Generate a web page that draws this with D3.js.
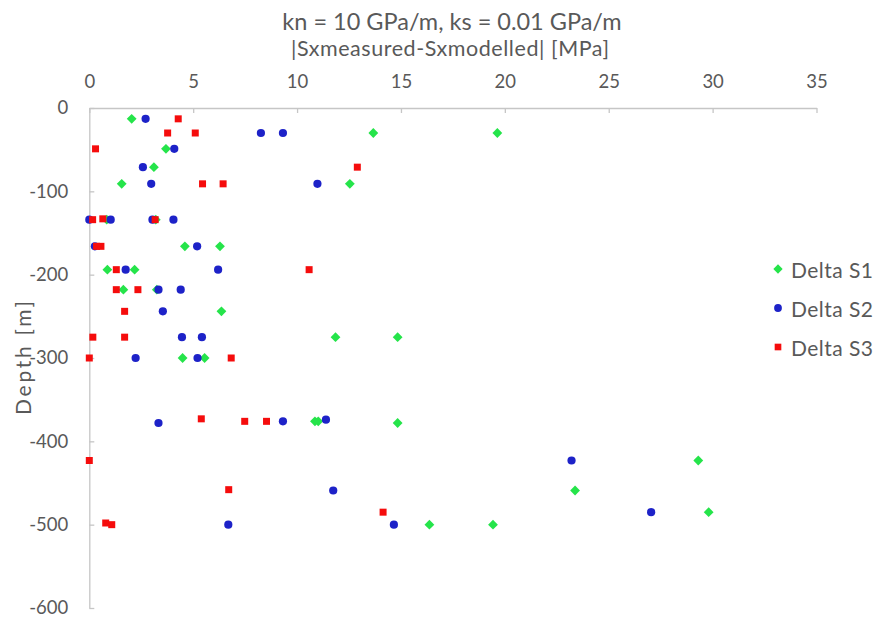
<!DOCTYPE html>
<html>
<head>
<meta charset="utf-8">
<script src="https://cdn.jsdelivr.net/npm/d3@7"></script>
<style>
  html, body { margin: 0; padding: 0; background: #fff; }
  svg { display: block; font-family: Lato, "Open Sans", sans-serif; }
</style>
</head>
<body>
<svg id="chart" width="880" height="619"></svg>
<script>
// Absolute stress difference [MPa] versus depth [m], three stress components
const deltaS1 = [
  [2.04, -13], [13.67, -30], [19.64, -30], [3.69, -49], [3.11, -71],
  [1.56, -91], [12.54, -91], [0.84, -134], [3.2, -134], [4.6, -166],
  [6.29, -166], [0.87, -194], [2.18, -194], [1.64, -218], [3.25, -218],
  [6.36, -244], [11.85, -275], [14.84, -275], [4.49, -300], [5.55, -300],
  [10.86, -376], [11.02, -376], [14.84, -378], [29.31, -423], [23.38, -459],
  [29.81, -485], [16.37, -500], [19.43, -500]
];
const deltaS2 = [
  [2.71, -13], [8.26, -30], [9.32, -30], [4.09, -49], [2.58, -71],
  [2.98, -91], [10.98, -91], [0.0, -134], [1.03, -134], [3.04, -134],
  [4.05, -134], [0.27, -166], [5.19, -166], [1.75, -194], [6.2, -194],
  [3.33, -218], [4.4, -218], [3.54, -244], [4.46, -275], [5.42, -275],
  [2.23, -300], [5.21, -300], [3.33, -378], [9.32, -376], [11.39, -374],
  [23.21, -423], [11.74, -459], [27.04, -485], [14.66, -500], [6.69, -500]
];
const deltaS3 = [
  [4.28, -13], [3.77, -30], [5.1, -30], [0.3, -49], [12.9, -71],
  [5.45, -91], [6.44, -91], [0.16, -134], [0.65, -133], [3.17, -134],
  [0.35, -166], [0.56, -166], [1.3, -194], [10.58, -194], [1.3, -218],
  [2.34, -218], [1.7, -244], [0.17, -275], [1.7, -275], [0.0, -300],
  [6.83, -300], [5.39, -373], [7.48, -376], [8.53, -376], [0.0, -423],
  [6.71, -458], [14.14, -485], [0.79, -498], [1.08, -500]
];

const seriesNames = ["Delta S1", "Delta S2", "Delta S3"];
const xTicks = [0, 5, 10, 15, 20, 25, 30, 35];
const yTicks = [0, -100, -200, -300, -400, -500, -600];

const titleText = "kn = 10 GPa/m, ks = 0.01 GPa/m";
const xTitleText = "|Sxmeasured-Sxmodelled| [MPa]";
const yTitleText = "Depth [m]";

const svg = d3.select("#chart");
const axisColor = "#c6c6c6";
const textColor = "#595959";
const colors = ["#25e44a", "#1d22c8", "#f50c0c"];

// Marker shapes: rotated square, circle, square
const markerPath = [
  r => `M0,${-r}L${r},0L0,${r}L${-r},0Z`,
  r => d3.symbol().type(d3.symbolCircle).size(Math.PI * r * r)(),
  r => `M${-r},${-r}H${r}V${r}H${-r}Z`
];
const markerRadius = [4.9, 4.1, 3.5];

const plot = { left: 89.3, right: 816.5, top: 108, bottom: 608 };

const x = d3.scaleLinear().domain([0, 35]).range([plot.left, plot.right]);
const y = d3.scaleLinear().domain([0, -600]).range([plot.top, plot.bottom]);

// Title and x-axis title (the horizontal axis sits at the top)
svg.append("text")
  .attr("x", 452).attr("y", 30)
  .attr("text-anchor", "middle")
  .attr("font-size", 23.5)
  .attr("fill", textColor)
  .text(titleText);

svg.append("text")
  .attr("x", 450).attr("y", 55.5)
  .attr("text-anchor", "middle")
  .attr("font-size", 21.5)
  .attr("textLength", 318)
  .attr("lengthAdjust", "spacing")
  .attr("fill", textColor)
  .text(xTitleText);

// Horizontal axis along the top, ticks pointing into the plot
const xAxis = d3.axisTop(x).tickValues(xTicks).tickFormat(d => String(d))
  .tickSizeInner(-5).tickSizeOuter(0).tickPadding(0);
const gx = svg.append("g").attr("transform", `translate(0,${plot.top})`).call(xAxis);
gx.select(".domain").attr("stroke", axisColor).attr("stroke-width", 1.3);
gx.selectAll(".tick line").attr("stroke", axisColor).attr("stroke-width", 1.3);
gx.selectAll(".tick text")
  .attr("y", -20)
  .attr("font-size", 18.5)
  .attr("font-family", "Lato, sans-serif")
  .attr("fill", textColor);

// Vertical axis, ticks pointing into the plot
const yAxis = d3.axisLeft(y).tickValues(yTicks).tickFormat(d => String(d))
  .tickSizeInner(-5).tickSizeOuter(0).tickPadding(0);
const gy = svg.append("g").attr("transform", `translate(${plot.left},0)`).call(yAxis);
gy.select(".domain").attr("stroke", axisColor).attr("stroke-width", 1.3);
gy.selectAll(".tick line").attr("stroke", axisColor).attr("stroke-width", 1.3);
gy.selectAll(".tick text")
  .attr("x", -21)
  .attr("font-size", 18.5)
  .attr("font-family", "Lato, sans-serif")
  .attr("fill", textColor);

svg.append("text")
  .attr("transform", `translate(22,${(plot.top + plot.bottom) / 2}) rotate(-90)`)
  .attr("text-anchor", "middle")
  .attr("dominant-baseline", "central")
  .attr("font-size", 21)
  .attr("textLength", 114)
  .attr("lengthAdjust", "spacing")
  .attr("fill", textColor)
  .text(yTitleText);

// Markers: S1 first, then S2, then S3 on top
[deltaS1, deltaS2, deltaS3].forEach((data, i) => {
  svg.append("g")
    .selectAll("path")
    .data(data)
    .join("path")
    .attr("d", markerPath[i](markerRadius[i]))
    .attr("transform", d => `translate(${x(d[0])},${y(d[1])})`)
    .attr("fill", colors[i]);
});

// Legend
const legend = svg.append("g").attr("transform", "translate(778,269)");
seriesNames.forEach((name, i) => {
  const row = legend.append("g").attr("transform", `translate(0,${i * 39})`);
  row.append("path")
    .attr("d", markerPath[i](markerRadius[i] * 0.95))
    .attr("fill", colors[i]);
  row.append("text")
    .attr("x", 13).attr("y", 0)
    .attr("dominant-baseline", "central")
    .attr("font-size", 21)
    .attr("textLength", 82)
    .attr("lengthAdjust", "spacing")
    .attr("fill", textColor)
    .text(name);
});
</script>
</body>
</html>
